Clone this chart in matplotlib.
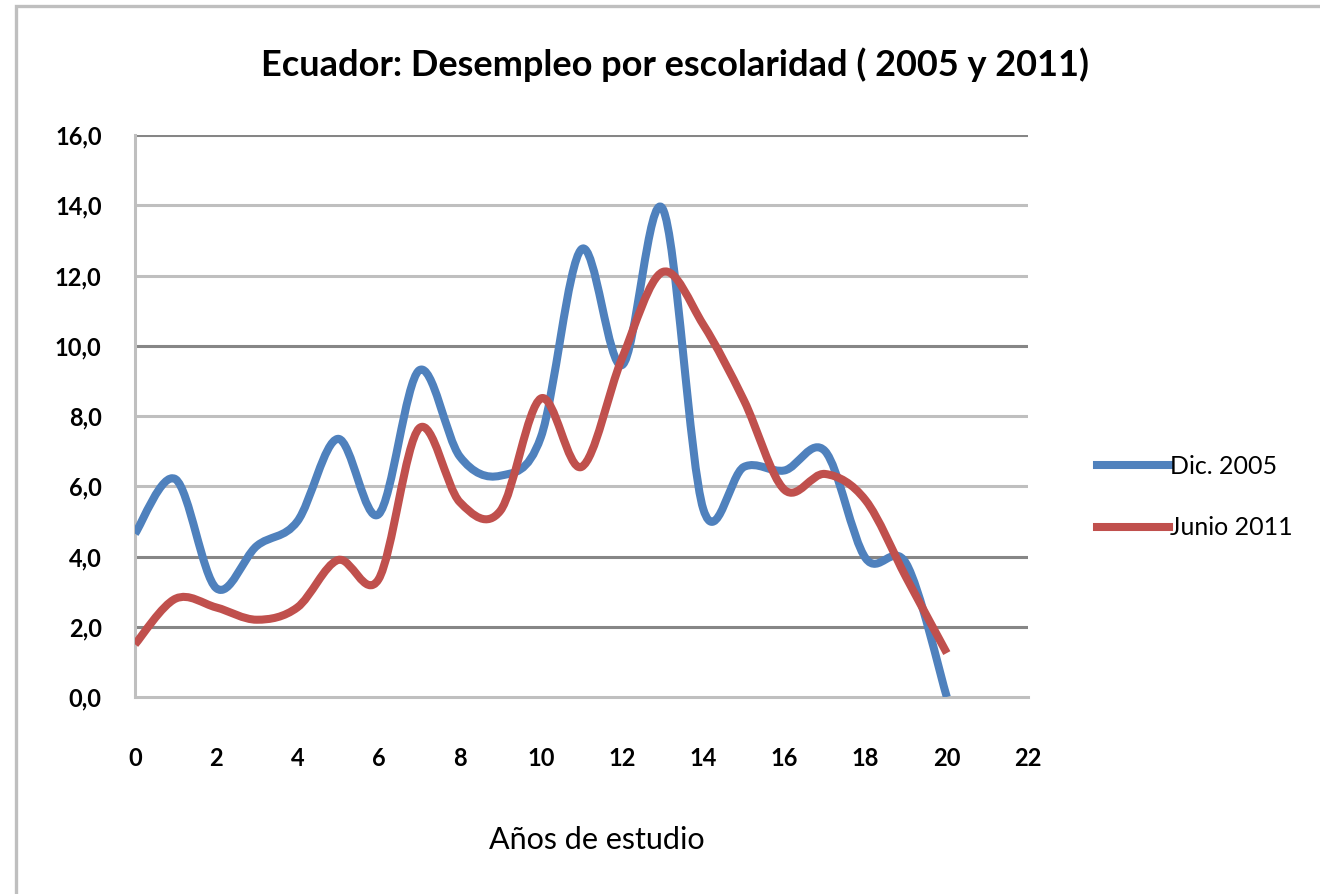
import matplotlib
matplotlib.use("Agg")
import matplotlib.pyplot as plt
from matplotlib.path import Path
from matplotlib.patches import PathPatch, Rectangle
from matplotlib.lines import Line2D
import numpy as np

plt.rcParams['font.family'] = ['Lato', 'DejaVu Sans']

years = list(range(0, 21))
dic_2005 = [4.65, 6.2, 3.1, 4.3, 5.0, 7.35, 5.2, 9.3, 6.85, 6.3, 7.4,
            12.75, 9.45, 13.9, 5.35, 6.55, 6.45, 7.0, 3.95, 3.8, 0.0]
junio_2011 = [1.5, 2.8, 2.55, 2.2, 2.55, 3.9, 3.35, 7.65, 5.55, 5.3, 8.5,
              6.55, 9.65, 12.1, 10.6, 8.45, 5.9, 6.35, 5.6, 3.4, 1.25]
series_names = ["Dic. 2005", "Junio 2011"]
series_colors = ["#4F81BD", "#C0504D"]
y_ticks = [0, 2, 4, 6, 8, 10, 12, 14, 16]
x_ticks = [0, 2, 4, 6, 8, 10, 12, 14, 16, 18, 20, 22]
title = "Ecuador: Desempleo por escolaridad ( 2005 y 2011)"
x_label = "Años de estudio"

W, H = 1320, 894
fig = plt.figure(figsize=(W / 100, H / 100), dpi=100)

# outer chart border
fig.patches.append(Rectangle((16 / W, -0.05), 1.2, 1 - 6 / H + 0.05, transform=fig.transFigure,
                             fill=False, edgecolor="#BFBFBF", linewidth=2.4, zorder=0))

ax = fig.add_axes([135 / W, (H - 697) / H, (1028 - 135) / W, (697 - 135) / H])
ax.set_xlim(0, 22)
ax.set_ylim(0, 16)


def smooth_path(xs, ys):
    """Excel-like smoothed line (Catmull-Rom bezier segments)."""
    xs = np.asarray(xs, float)
    ys = np.asarray(ys, float)
    n = len(xs)
    verts = [(xs[0], ys[0])]
    codes = [Path.MOVETO]
    for i in range(n - 1):
        p0 = (xs[max(i - 1, 0)], ys[max(i - 1, 0)])
        p1 = (xs[i], ys[i])
        p2 = (xs[i + 1], ys[i + 1])
        p3 = (xs[min(i + 2, n - 1)], ys[min(i + 2, n - 1)])
        c1 = (p1[0] + (p2[0] - p0[0]) / 6, p1[1] + (p2[1] - p0[1]) / 6)
        c2 = (p2[0] - (p3[0] - p1[0]) / 6, p2[1] - (p3[1] - p1[1]) / 6)
        verts += [c1, c2, p2]
        codes += [Path.CURVE4] * 3
    return Path(verts, codes)


dark_lines = {16, 10, 4, 2}
for t in y_ticks[1:]:
    ax.axhline(t, color="#868686" if t in dark_lines else "#BFBFBF", lw=2.2, zorder=1)

for vals, color in zip([dic_2005, junio_2011], series_colors):
    ax.add_patch(PathPatch(smooth_path(years, vals), facecolor="none", edgecolor=color,
                           lw=5.8, capstyle="butt", joinstyle="round", zorder=3))

for side in ["top", "right"]:
    ax.spines[side].set_visible(False)
for side in ["left", "bottom"]:
    ax.spines[side].set_color("#BFBFBF")
    ax.spines[side].set_linewidth(2.2)

ax.set_yticks(y_ticks)
ax.set_yticklabels([f"{v:.1f}".replace(".", ",") for v in y_ticks])
ax.set_xticks(x_ticks)
ax.set_xticklabels([str(v) for v in x_ticks])
ax.tick_params(axis="both", length=0, labelsize=17, colors="#000000")
ax.tick_params(axis="y", pad=24)
ax.tick_params(axis="x", pad=36)
for lab in ax.get_xticklabels() + ax.get_yticklabels():
    lab.set_fontweight("bold")

fig.text(675 / W, 1 - 65 / H, title, ha="center", va="center", fontsize=26, fontweight="bold")
fig.text(597 / W, 1 - 840 / H, x_label, ha="center", va="center", fontsize=22)

handles = [Line2D([], [], color=c, lw=5.8) for c in series_colors]
fig.legend(handles, series_names, loc="center left", bbox_to_anchor=(1074 / W, 1 - 497 / H),
           frameon=False, fontsize=18, handlelength=2.9, handletextpad=0.05, labelspacing=1.55)

fig.savefig("out.png", dpi=100)
